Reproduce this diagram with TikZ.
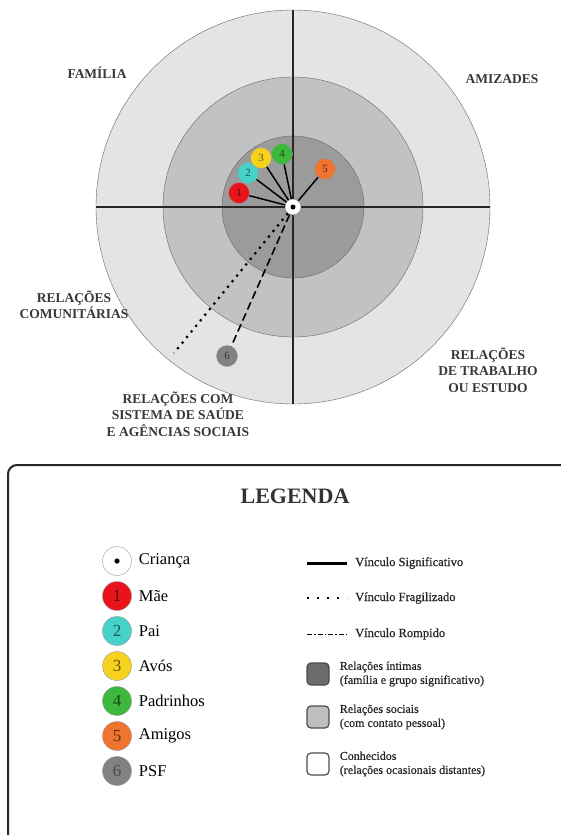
\documentclass[tikz,border=0pt]{standalone}
\usepackage{fontspec}
\setmainfont{Liberation Serif}
\usetikzlibrary{positioning}
\definecolor{ringin}{HTML}{9B9B9B}
\definecolor{ringmid}{HTML}{C2C2C2}
\definecolor{ringout}{HTML}{E4E4E4}
\definecolor{mae}{HTML}{E8141C}
\definecolor{pai}{HTML}{45D2C8}
\definecolor{avos}{HTML}{F5D21E}
\definecolor{padr}{HTML}{3DB83D}
\definecolor{amig}{HTML}{F07430}
\definecolor{psf}{HTML}{828282}
\begin{document}
\begin{tikzpicture}[x=1pt, y=-1pt, node distance=35pt,
  main/.style = {draw=black!40, circle, minimum size=21pt, inner sep=0pt, font=\fontsize{11}{11}\selectfont},
  big/.style = {draw=black!40, circle, minimum size=29pt, inner sep=0pt, font=\fontsize{17}{17}\selectfont},
  area/.style = {font=\bfseries\fontsize{13.5}{16.5}\selectfont, align=center, text=black!78},
  item/.style = {font=\fontsize{16.5}{16.5}\selectfont, inner sep=1pt},
  vinc/.style = {font=\fontsize{12.5}{14}\selectfont\addfontfeature{FakeBold=0.8}, inner sep=1pt, text=black!85, anchor=west},
  keybox/.style = {draw=black!70, line width=1.2pt, rounded corners=4pt, minimum size=22pt, inner sep=0pt},
  note/.style = {font=\fontsize{12}{14}\selectfont\addfontfeature{FakeBold=0.6}, inner sep=1pt, align=left, text=black!85}]
\useasboundingbox (0,0) rectangle (561,835);
\fill[white] (0,0) rectangle (561,835);

% rings
\draw[black!60, fill=ringout] (293,207) circle[radius=197pt];
\draw[black!60, fill=ringmid] (293,207) circle[radius=130pt];
\draw[black!60, fill=ringin] (293,207) circle[radius=71pt];
\coordinate (top) at (293,10);
\coordinate (bot) at (293,404);
\coordinate (lft) at (96,207);
\coordinate (rgt) at (490,207);
\draw[black!85, line width=1.3pt] (top) -- (bot);
\draw[black!85, line width=1.3pt] (lft) -- (rgt);

% network
\node[draw=black!50, fill=white, circle, minimum size=16pt, inner sep=0pt] (c) at (293,207) {};
\fill (c) circle[radius=2.5pt];
\node[main, fill=mae, text=black!60!mae] (1) at (239,193) {1};
\node[main, fill=pai, text=black!60!pai] (2) at (248,173) {2};
\node[main, fill=avos, text=black!60!avos] (3) at (261,158) {3};
\node[main, fill=padr, text=black!60!padr] (4) at (282,154) {4};
\node[main, fill=amig, text=black!60!amig] (5) at (325,169) {5};
\node[main, fill=psf, text=black!60!psf] (6) at (227,356) {6};
\coordinate (com) at (174,353);

\draw[line width=1.5pt] (c) -- (1);
\draw[line width=1.5pt] (c) -- (2);
\draw[line width=1.5pt] (c) -- (3);
\draw[line width=1.5pt] (c) -- (4);
\draw[line width=1.5pt] (c) -- (5);
\draw[line width=2.2pt, dash pattern=on 2.2pt off 5pt] (c) -- (com);
\draw[line width=1.6pt, dash pattern=on 8pt off 4pt] (c) -- (6);

% areas
\node[area] (fam) at (97,73) {FAMÍLIA};
\node[area] (ami) at (502,79) {AMIZADES};
\node[area] (comu) at (74,305) {RELAÇÕES\\COMUNITÁRIAS};
\node[area] (trab) at (488,370) {RELAÇÕES\\DE TRABALHO\\OU ESTUDO};
\node[area] (saude) at (178,414) {RELAÇÕES COM\\SISTEMA DE SAÚDE\\E AGÊNCIAS SOCIAIS};

% legenda
\draw[black!85, line width=2pt, rounded corners=9pt] (8,465) rectangle (585,870);
\node[font=\bfseries\fontsize{22}{22}\selectfont, text=black!80] (leg) at (295,496) {LEGENDA};

\node[big, fill=white] (k0) at (117,561) {};
\fill (k0) circle[radius=2.6pt];
\node[big, fill=mae, text=black!60!mae] (k1) [below of=k0] {1};
\node[big, fill=pai, text=black!60!pai] (k2) [below of=k1] {2};
\node[big, fill=avos, text=black!60!avos] (k3) [below of=k2] {3};
\node[big, fill=padr, text=black!60!padr] (k4) [below of=k3] {4};
\node[big, fill=amig, text=black!60!amig] (k5) [below of=k4] {5};
\node[big, fill=psf, text=black!70] (k6) [below of=k5] {6};
\node[item, right=6pt of k0] (t0) {Criança};
\node[item, right=6pt of k1] (t1) {Mãe};
\node[item, right=6pt of k2] (t2) {Pai};
\node[item, right=6pt of k3] (t3) {Avós};
\node[item, right=6pt of k4] (t4) {Padrinhos};
\node[item, right=6pt of k5] (t5) {Amigos};
\node[item, right=6pt of k6] (t6) {PSF};

\node[vinc] (v1) at (354,563) {Vínculo Significativo};
\node[vinc] (v2) at (354,598) {Vínculo Fragilizado};
\node[vinc] (v3) at (354,634) {Vínculo Rompido};
\draw[line width=3pt] ([xshift=-47pt]v1.west) -- ([xshift=-7pt]v1.west);
\draw[line width=2pt, dash pattern=on 2pt off 8pt] ([xshift=-47pt]v2.west) -- ([xshift=-7pt]v2.west);
\draw[line width=1pt, dash pattern=on 5pt off 2pt on 1.5pt off 2pt] ([xshift=-47pt]v3.west) -- ([xshift=-7pt]v3.west);

\node[keybox, fill=black!58] (b1) at (318,674) {};
\node[keybox, fill=black!25] (b2) at (318,717) {};
\node[keybox, fill=white] (b3) at (318,764) {};
\node[note, right=9pt of b1] (n1) {Relações íntimas\\(família e grupo significativo)};
\node[note, right=9pt of b2] (n2) {Relações sociais\\(com contato pessoal)};
\node[note, right=9pt of b3] (n3) {Conhecidos\\(relações ocasionais distantes)};
\end{tikzpicture}
\end{document}
